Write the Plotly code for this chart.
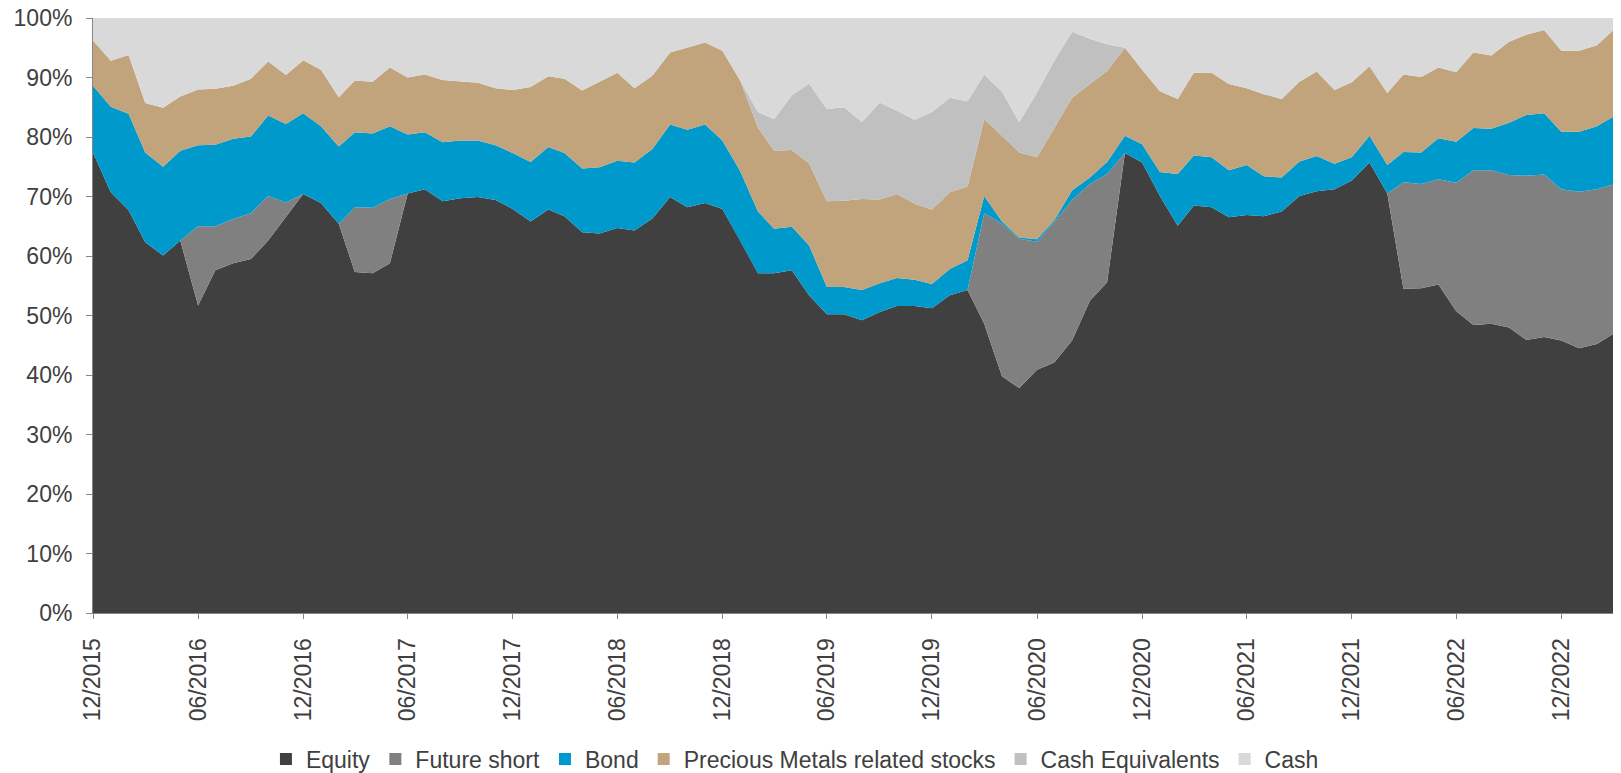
import pandas as pd
import plotly.graph_objects as go

# colours
COLOR_EQUITY = '#404040'
COLOR_FUTURE = '#808080'
COLOR_BOND = '#0099CC'
COLOR_PRECIOUS = '#C1A37C'
COLOR_CASH_EQ = '#C0C0C0'
COLOR_CASH = '#D9D9D9'
TEXT_COLOR = '#404040'
AXIS_COLOR = '#868686'

# monthly dates 12/2015 .. 03/2023
dates = pd.date_range('2015-12-01', '2023-03-01', freq='MS')

equity = [77.4, 70.7, 67.7, 62.3, 60.1, 62.6, 51.7, 57.6, 58.8, 59.5,
          62.6, 66.6, 70.4, 68.9, 65.4, 57.3, 57.1, 58.8, 70.5, 71.2,
          69.2, 69.7, 69.9, 69.4, 67.9, 65.8, 67.8, 66.7, 64.0, 63.8,
          64.7, 64.3, 66.3, 69.9, 68.2, 68.9, 67.9, 62.6, 57.1, 57.1,
          57.6, 53.4, 50.2, 50.2, 49.2, 50.6, 51.6, 51.6, 51.2, 53.4,
          54.3, 48.6, 39.8, 37.8, 40.9, 42.1, 45.8, 52.5, 55.6, 77.3,
          75.7, 70.1, 65.1, 68.5, 68.2, 66.5, 66.9, 66.7, 67.5, 70.1,
          70.9, 71.2, 72.7, 75.7, 70.5, 54.5, 54.6, 55.2, 50.7, 48.4,
          48.6, 48.0, 45.9, 46.4, 45.8, 44.5, 45.2, 46.9]

future_short = [0, 0, 0, 0, 0, 0, 13.3, 7.4, 7.4, 7.7,
                7.5, 2.4, 0, 0, 0, 10.9, 11.0, 10.8, 0, 0,
                0, 0, 0, 0, 0, 0, 0, 0, 0, 0,
                0, 0, 0, 0, 0, 0, 0, 0, 0, 0,
                0, 0, 0, 0, 0, 0, 0, 0, 0, 0,
                0, 18.6, 25.6, 25.1, 21.5, 23.6, 23.6, 19.6, 18.2, 0,
                0, 0, 0, 0, 0, 0, 0, 0, 0, 0,
                0, 0, 0, 0, 0, 17.9, 17.5, 17.7, 21.6, 26.0,
                25.8, 25.6, 27.6, 27.3, 25.4, 26.3, 26.0, 25.1]

bond = [11.2, 14.4, 16.2, 15.1, 14.9, 15.1, 13.6, 13.7, 13.5, 12.9,
        13.5, 13.2, 13.6, 12.9, 13.0, 12.6, 12.5, 12.2, 9.9, 9.6,
        9.9, 9.7, 9.5, 9.2, 9.4, 10.0, 10.5, 10.6, 10.7, 11.1,
        11.3, 11.4, 11.7, 12.2, 13.0, 13.2, 11.5, 11.7, 10.4, 7.5,
        7.3, 8.4, 4.6, 4.6, 5.1, 4.8, 4.7, 4.4, 4.1, 4.4,
        5.0, 2.9, 0.4, 0.2, 0.4, 0.3, 1.6, 1.1, 2.0, 2.9,
        3.1, 4.0, 8.7, 8.4, 8.4, 7.9, 8.4, 6.7, 5.7, 5.8,
        5.9, 4.3, 3.9, 4.5, 4.8, 5.1, 5.3, 6.9, 6.9, 7.1,
        7.0, 8.8, 10.2, 10.3, 9.7, 10.1, 10.6, 11.4]

precious = [7.6, 7.7, 9.9, 8.3, 9.9, 9.1, 9.4, 9.4, 8.9, 9.7,
            9.1, 8.2, 8.9, 9.5, 8.3, 8.7, 8.7, 9.9, 9.6, 9.7,
            10.5, 10.0, 9.7, 9.6, 10.6, 12.6, 11.9, 12.5, 13.1, 14.4,
            14.8, 12.5, 12.3, 12.1, 13.9, 13.8, 15.1, 15.2, 14.1, 13.1,
            12.9, 13.8, 14.4, 14.5, 15.3, 14.1, 14.1, 12.8, 12.5, 12.9,
            12.4, 12.9, 14.4, 14.3, 13.8, 15.4, 15.6, 15.7, 15.3, 14.8,
            12.5, 13.6, 12.6, 13.9, 14.2, 14.5, 12.9, 13.8, 13.2, 13.4,
            14.2, 12.4, 12.6, 11.7, 12.1, 13.0, 12.7, 11.9, 11.7, 12.7,
            12.3, 13.6, 13.5, 14.0, 13.6, 13.6, 13.6, 14.5]

cash_equivalents = [0, 0, 0, 0, 0, 0, 0, 0, 0, 0,
                    0, 0, 0, 0, 0, 0, 0, 0, 0, 0,
                    0, 0, 0, 0, 0, 0, 0, 0, 0, 0,
                    0, 0, 0, 0, 0, 0, 0, 0, 2.6, 5.3,
                    9.2, 13.4, 15.5, 15.7, 12.9, 16.3, 14.0, 14.1, 16.4, 15.9,
                    14.3, 7.5, 7.4, 5.1, 10.9, 11.4, 11.1, 7.6, 4.5, 0,
                    0, 0, 0, 0, 0, 0, 0, 0, 0, 0,
                    0, 0, 0, 0, 0, 0, 0, 0, 0, 0,
                    0, 0, 0, 0, 0, 0, 0, 0]

cash = [3.8, 7.2, 6.2, 14.3, 15.1, 13.2, 12.0, 11.9, 11.4, 10.2,
        7.3, 9.6, 7.1, 8.7, 13.3, 10.5, 10.7, 8.3, 10.0, 9.5,
        10.4, 10.6, 10.9, 11.8, 12.1, 11.6, 9.8, 10.2, 12.2, 10.7,
        9.2, 11.8, 9.7, 5.8, 4.9, 4.1, 5.5, 10.5, 15.8, 17.0,
        13.0, 11.0, 15.3, 15.0, 17.5, 14.2, 15.6, 17.1, 15.8, 13.4,
        14.0, 9.5, 12.4, 17.5, 12.5, 7.2, 2.3, 3.5, 4.4, 5.0,
        8.7, 12.3, 13.6, 9.2, 9.2, 11.1, 11.8, 12.8, 13.6, 10.7,
        9.0, 12.1, 10.8, 8.1, 12.6, 9.5, 9.9, 8.3, 9.1, 5.8,
        6.3, 4.0, 2.8, 2.0, 5.5, 5.5, 4.6, 2.1]

y_ticks = [0, 10, 20, 30, 40, 50, 60, 70, 80, 90, 100]

series = [
    ('Equity', equity, COLOR_EQUITY),
    ('Future short', future_short, COLOR_FUTURE),
    ('Bond', bond, COLOR_BOND),
    ('Precious Metals related stocks', precious, COLOR_PRECIOUS),
    ('Cash Equivalents', cash_equivalents, COLOR_CASH_EQ),
    ('Cash', cash, COLOR_CASH),
]

fig = go.Figure()
for name, values, color in series:
    # stacked area
    fig.add_trace(go.Scatter(
        x=dates, y=values, name=name, stackgroup='one', mode='lines',
        line=dict(width=0, color=color), fillcolor=color, showlegend=False
    ))
for name, values, color in series:
    # square legend markers
    fig.add_trace(go.Scatter(
        x=[None], y=[None], name=name, mode='markers',
        marker=dict(symbol='square', size=12, color=color)
    ))

fig.update_layout(
    width=1621,
    height=773,
    margin=dict(l=93, r=8, t=18, b=160, autoexpand=False),
    paper_bgcolor='white',
    plot_bgcolor='white',
    font=dict(family='Liberation Sans, Arial, sans-serif', size=23, color=TEXT_COLOR),
    showlegend=True,
    legend=dict(
        orientation='h',
        traceorder='normal',
        xref='container', yref='container',
        x=0.4904, y=0.018,
        xanchor='center', yanchor='middle',
        font=dict(size=23, color=TEXT_COLOR),
        itemclick=False,
    ),
    xaxis=dict(
        type='date',
        automargin=False,
        range=[dates[0], dates[-1]],
        tick0='2015-12-01',
        dtick='M6',
        tickformat='%m/%Y',
        tickangle=-90,
        ticklabelstandoff=10,
        showgrid=False,
        showline=True,
        linecolor=AXIS_COLOR,
        ticks='outside',
        ticklen=5,
        tickcolor=AXIS_COLOR,
    ),
    yaxis=dict(
        automargin=False,
        range=[0, 100],
        tickmode='array',
        tickvals=y_ticks,
        ticktext=[f'{v}%' for v in y_ticks],
        ticklabeloverflow='allow',
        ticklabelstandoff=9,
        showgrid=False,
        showline=True,
        linecolor=AXIS_COLOR,
        ticks='outside',
        ticklen=6,
        tickcolor=AXIS_COLOR,
        zeroline=False,
    ),
)

# drop the default 8px page margin so the figure fills the window
fig.write_html(
    'out.html',
    config={'displayModeBar': False},
    post_script="document.body.style.margin='0';",
)
